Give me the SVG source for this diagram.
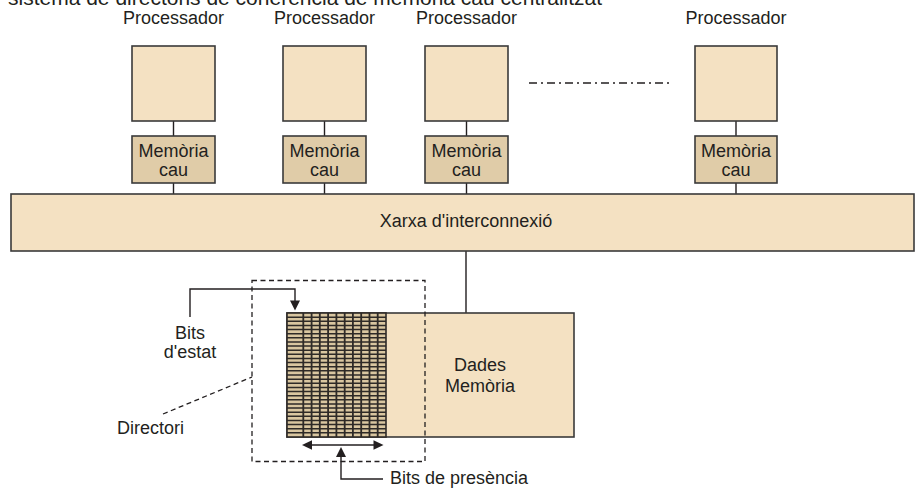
<svg xmlns="http://www.w3.org/2000/svg" width="917" height="488" viewBox="0 0 917 488">
<style>
text{font-family:"Liberation Sans",Arial,sans-serif;font-size:18px;fill:#231f20}
.c{text-anchor:middle}
.box{fill:#f4e1c2;stroke:#3a3a3a;stroke-width:1.6}
.cache{fill:#e0cca8;stroke:#3a3a3a;stroke-width:1.6}
.ln{fill:none;stroke:#231f20;stroke-width:1.4}
.dash{fill:none;stroke:#231f20;stroke-width:1.3;stroke-dasharray:5,3.5}
.ah{fill:#231f20}
</style>
<rect width="917" height="488" fill="#ffffff"/>
<text x="8" y="5" style="font-size:21px">sistema de directoris de coherència de memòria cau centralitzat</text>

<g id="connectors">
<path class="ln" d="M173.5,121V136M173.5,183V194M324.5,121V136M324.5,183V194M466.5,121V136M466.5,183V194M736,121V136M736,183V194M466,251V313"/>
<path d="M529,83H673" fill="none" stroke="#231f20" stroke-width="1.3" stroke-dasharray="8,4,2,4"/>
</g>

<g id="p1"><text class="c" x="173.5" y="24">Processador</text><rect class="box" x="132" y="46" width="83" height="75"/></g>
<g id="p2"><text class="c" x="324.5" y="24">Processador</text><rect class="box" x="283" y="46" width="83" height="75"/></g>
<g id="p3"><text class="c" x="466.5" y="24">Processador</text><rect class="box" x="425" y="46" width="83" height="75"/></g>
<g id="p4"><text class="c" x="736" y="24">Processador</text><rect class="box" x="695" y="46" width="82" height="75"/></g>

<g id="c1"><rect class="cache" x="132" y="136" width="83" height="47"/><text class="c" x="173.5" y="157">Memòria</text><text class="c" x="173.5" y="176">cau</text></g>
<g id="c2"><rect class="cache" x="283" y="136" width="83" height="47"/><text class="c" x="324.5" y="157">Memòria</text><text class="c" x="324.5" y="176">cau</text></g>
<g id="c3"><rect class="cache" x="425" y="136" width="83" height="47"/><text class="c" x="466.5" y="157">Memòria</text><text class="c" x="466.5" y="176">cau</text></g>
<g id="c4"><rect class="cache" x="695" y="136" width="82" height="47"/><text class="c" x="736" y="157">Memòria</text><text class="c" x="736" y="176">cau</text></g>

<g id="network"><rect class="box" x="11" y="194" width="903" height="57"/><text class="c" x="466" y="227">Xarxa d'interconnexió</text></g>

<g id="memory">
<rect class="box" x="287" y="313" width="287" height="124"/>
<text class="c" x="480" y="371">Dades</text><text class="c" x="480" y="392">Memòria</text>
</g>

<g id="directory-grid">
<rect x="287" y="313" width="99" height="124" fill="#d9c6a0"/>
<path fill="none" stroke="#2e2a27" stroke-width="1.5" d="M287,317.13H386M287,321.27H386M287,325.4H386M287,329.53H386M287,333.67H386M287,337.8H386M287,341.93H386M287,346.07H386M287,350.2H386M287,354.33H386M287,358.47H386M287,362.6H386M287,366.73H386M287,370.87H386M287,375H386M287,379.13H386M287,383.27H386M287,387.4H386M287,391.53H386M287,395.67H386M287,399.8H386M287,403.93H386M287,408.07H386M287,412.2H386M287,416.33H386M287,420.47H386M287,424.6H386M287,428.73H386M287,432.87H386"/>
<path fill="none" stroke="#2e2a27" stroke-width="1.8" d="M303.3,313V437M311.6,313V437M319.8,313V437M328.1,313V437M336.4,313V437M344.7,313V437M352.9,313V437M361.2,313V437M369.5,313V437M377.7,313V437"/>
<rect x="287" y="313" width="99" height="124" fill="none" stroke="#2e2a27" stroke-width="1.6"/>
</g>

<g id="directori">
<rect class="dash" x="252" y="280.5" width="173" height="181"/>
<path class="dash" d="M163,414L252,377"/>
<text x="117" y="434">Directori</text>
</g>

<g id="bits-estat">
<path class="ln" d="M190,317V289H295V302"/>
<polygon class="ah" points="290,300.5 300,300.5 295,310.5"/>
<text class="c" x="190" y="339">Bits</text><text class="c" x="190" y="358">d'estat</text>
</g>

<g id="bits-presencia">
<path class="ln" d="M310,445H375"/>
<polygon class="ah" points="302,445 312,440.3 312,449.7"/>
<polygon class="ah" points="383.5,445 373.5,440.3 373.5,449.7"/>
<path class="ln" d="M341,456V479H383"/>
<polygon class="ah" points="341,447 336,457 346,457"/>
<text x="390" y="484">Bits de presència</text>
</g>
</svg>
